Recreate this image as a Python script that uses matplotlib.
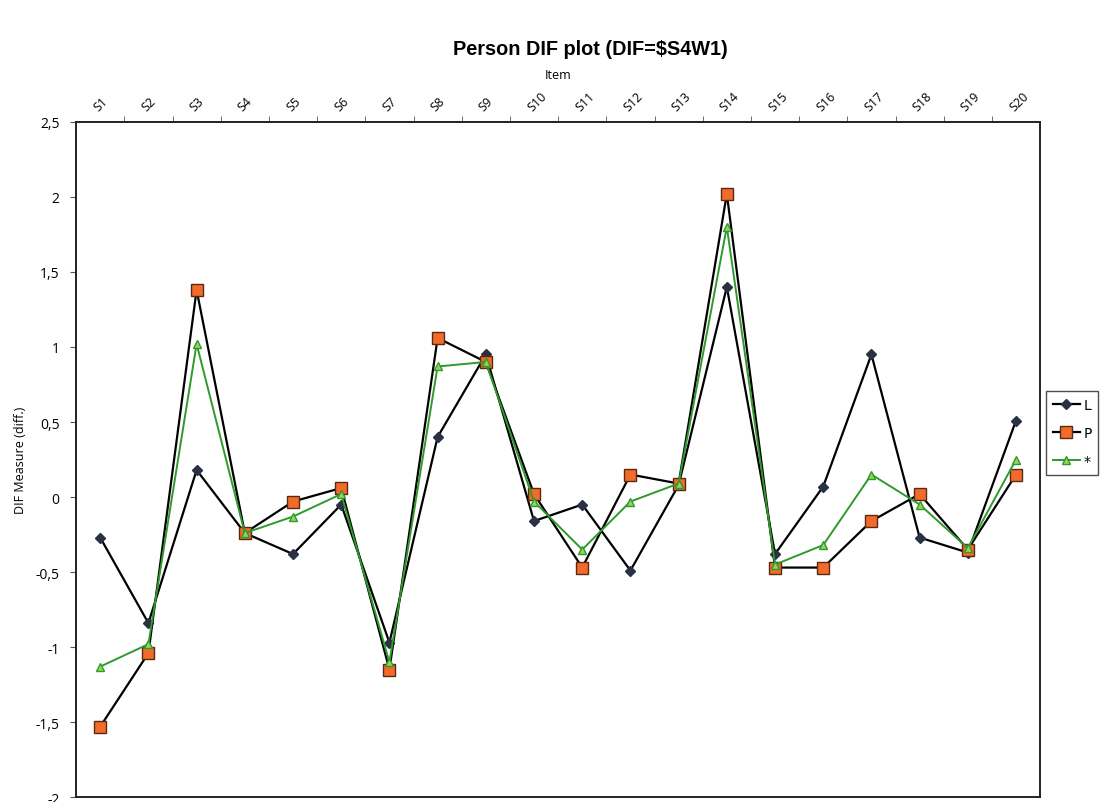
import matplotlib
matplotlib.use("Agg")
import matplotlib.pyplot as plt
from matplotlib.ticker import FixedLocator, FuncFormatter

items = ["S1", "S2", "S3", "S4", "S5", "S6", "S7", "S8", "S9", "S10",
         "S11", "S12", "S13", "S14", "S15", "S16", "S17", "S18", "S19", "S20"]
series_L = [-0.27, -0.84, 0.18, -0.24, -0.38, -0.05, -0.97, 0.40, 0.95, -0.16,
            -0.05, -0.49, 0.08, 1.40, -0.38, 0.07, 0.95, -0.27, -0.37, 0.51]
series_P = [-1.53, -1.04, 1.38, -0.24, -0.03, 0.06, -1.15, 1.06, 0.90, 0.02,
            -0.47, 0.15, 0.09, 2.02, -0.47, -0.47, -0.16, 0.02, -0.35, 0.15]
series_all = [-1.13, -0.98, 1.02, -0.24, -0.13, 0.02, -1.10, 0.87, 0.90, -0.03,
              -0.35, -0.03, 0.09, 1.80, -0.45, -0.32, 0.15, -0.05, -0.34, 0.25]
labels = ["L", "P", "*"]
y_ticks = [-2, -1.5, -1, -0.5, 0, 0.5, 1, 1.5, 2, 2.5]

fig = plt.figure(figsize=(11.03, 8.03), dpi=100)
ax = fig.add_axes([0.069, 0.006, 0.874, 0.841])

x = list(range(1, len(items) + 1))
ax.plot(x, series_L, color="black", lw=1.6, marker="D", ms=5,
        mfc="#2a3242", mec="#2a3242", label=labels[0], zorder=3)
ax.plot(x, series_P, color="black", lw=1.6, marker="s", ms=8,
        mfc="#f26b2a", mec="#5a2a10", mew=1.0, label=labels[1], zorder=4)
ax.plot(x, series_all, color="#2e9a2e", lw=1.4, marker="^", ms=6,
        mfc="#9ad15a", mec="#2e9a2e", label=labels[2], zorder=5)

ax.set_xlim(0.5, len(items) + 0.5)
ax.set_ylim(-2, 2.5)

ax.xaxis.set_ticks_position("top")
ax.xaxis.set_label_position("top")
ax.set_xticks(x)
ax.set_xticklabels(items, rotation=45, ha="left", va="bottom",
                   rotation_mode="anchor", fontsize=9, family="Open Sans")
ax.tick_params(axis="x", which="major", length=0, pad=6)
ax.set_xticks([i + 0.5 for i in range(1, len(items))], minor=True)
ax.tick_params(axis="x", which="minor", length=4, direction="out",
               color="#555555", top=True, bottom=False)
ax.set_xlabel("Item", fontsize=9, family="Open Sans", labelpad=8)

ax.yaxis.set_major_locator(FixedLocator(y_ticks))
ax.yaxis.set_major_formatter(FuncFormatter(
    lambda v, p: ("%g" % v).replace(".", ",")))
ax.tick_params(axis="y", length=4, direction="out", labelsize=10, pad=8,
               color="#555555")
for lab in ax.get_yticklabels():
    lab.set_family("Open Sans")
ax.set_ylabel("DIF Measure (diff.)", fontsize=9, family="Open Sans",
              labelpad=6)

for s in ax.spines.values():
    s.set_color("#222222")
    s.set_linewidth(1.4)

fig.suptitle("Person DIF plot (DIF=$S4W1)", x=0.535, y=0.95,
             fontsize=14.3, fontweight="bold", family="Liberation Sans")

leg = fig.legend(loc="upper left", bbox_to_anchor=(0.948, 0.512),
                 frameon=True, fancybox=False, edgecolor="#222222",
                 fontsize=10, handlelength=2.0, borderpad=0.5,
                 labelspacing=1.0, handletextpad=0.2, borderaxespad=0.0)
leg.get_frame().set_linewidth(1.0)

fig.savefig("out.png", dpi=100)
